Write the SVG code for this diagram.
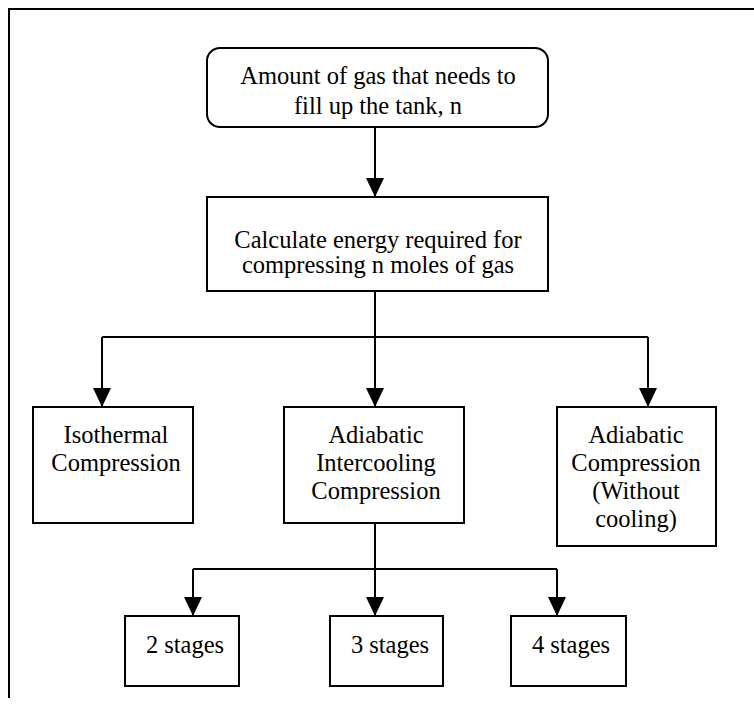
<svg xmlns="http://www.w3.org/2000/svg" width="754" height="704" viewBox="0 0 754 704">
<style>
.box{fill:#fff;stroke:#000;stroke-width:2}
.t{font-size:24.5px;fill:#000;text-anchor:middle}
.c{fill:none;stroke:#000;stroke-width:2}
</style>
<defs>
<marker id="ah" markerUnits="userSpaceOnUse" markerWidth="20" markerHeight="20" refX="19" refY="9" orient="auto">
<path d="M0,0 L19,9 L0,18 z" fill="#000"/>
</marker>
</defs>
<rect width="754" height="704" fill="#fff"/>
<path d="M9,698 V9 H754" fill="none" stroke="#000" stroke-width="2"/>
<g id="connectors">
<path class="c" d="M375,127 V197" marker-end="url(#ah)"/>
<path class="c" d="M375,291 V337"/>
<path class="c" d="M102,337 H648"/>
<path class="c" d="M102,337 V407" marker-end="url(#ah)"/>
<path class="c" d="M375,337 V407" marker-end="url(#ah)"/>
<path class="c" d="M648,337 V407" marker-end="url(#ah)"/>
<path class="c" d="M375,523 V569"/>
<path class="c" d="M193,569 H557"/>
<path class="c" d="M193,569 V616" marker-end="url(#ah)"/>
<path class="c" d="M375,569 V616" marker-end="url(#ah)"/>
<path class="c" d="M557,569 V616" marker-end="url(#ah)"/>
</g>
<g font-family="Liberation Serif, Times New Roman, DejaVu Serif, serif">
<g id="n_amount">
<rect class="box" x="207" y="48" width="341" height="79" rx="13"/>
<text class="t" x="378" y="84">Amount of gas that needs to</text>
<text class="t" x="378" y="114">fill up the tank, n</text>
</g>
<g id="n_calc">
<rect class="box" x="207" y="197" width="341" height="94"/>
<text class="t" x="378" y="248">Calculate energy required for</text>
<text class="t" x="378" y="273">compressing n moles of gas</text>
</g>
<g id="n_iso">
<rect class="box" x="33" y="407" width="160" height="116"/>
<text class="t" x="116" y="443">Isothermal</text>
<text class="t" x="116" y="471">Compression</text>
</g>
<g id="n_inter">
<rect class="box" x="284" y="407" width="180" height="116"/>
<text class="t" x="376" y="443">Adiabatic</text>
<text class="t" x="376" y="471">Intercooling</text>
<text class="t" x="376" y="499">Compression</text>
</g>
<g id="n_adiab">
<rect class="box" x="557" y="407" width="159" height="139"/>
<text class="t" x="636" y="443">Adiabatic</text>
<text class="t" x="636" y="471">Compression</text>
<text class="t" x="636" y="499">(Without</text>
<text class="t" x="636" y="527">cooling)</text>
</g>
<g id="n_s2">
<rect class="box" x="125" y="616" width="114" height="70"/>
<text class="t" x="185" y="653">2 stages</text>
</g>
<g id="n_s3">
<rect class="box" x="330" y="616" width="113" height="70"/>
<text class="t" x="390" y="653">3 stages</text>
</g>
<g id="n_s4">
<rect class="box" x="511" y="616" width="115" height="70"/>
<text class="t" x="571" y="653">4 stages</text>
</g>
</g>
</svg>
